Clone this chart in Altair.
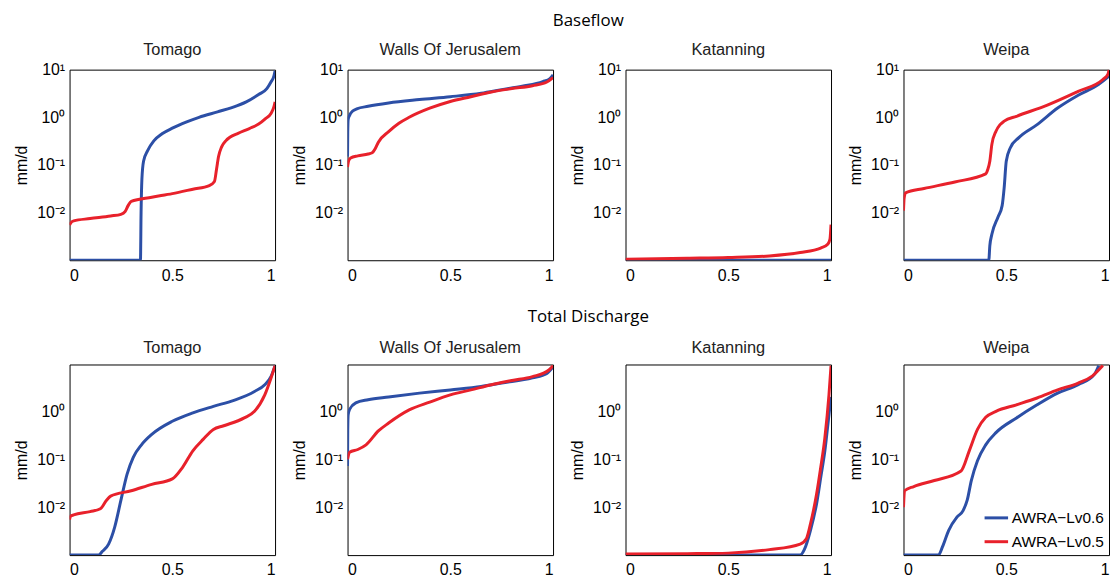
import altair as alt
import pandas as pd

S06 = "AWRA\u2212Lv0.6"
S05 = "AWRA\u2212Lv0.5"
BLUE = "#2c4fa6"
RED = "#e8212b"

ROW_TITLES = ["Baseflow", "Total Discharge"]
CATCHMENTS = ["Tomago", "Walls Of Jerusalem", "Katanning", "Weipa"]
X_TICKS = [0, 0.5, 1]
Y_TICKS_TOP = [0.01, 0.1, 1, 10]
Y_TICKS_BOTTOM = [0.01, 0.1, 1]
Y_DOMAIN_TOP = [0.001, 10]
Y_DOMAIN_BOTTOM = [0.001, 9.5]

# ---------------- Baseflow ----------------
TOM_BF_X_06 = [0, 0.345, 0.348, 0.352, 0.36, 0.38, 0.41, 0.45, 0.5, 0.57, 0.63, 0.72, 0.79, 0.86, 0.92, 0.96, 0.98, 0.995, 1.0]
TOM_BF_Y_06 = [0.001, 0.001, 0.01, 0.05, 0.12, 0.2, 0.32, 0.45, 0.59, 0.8, 1.0, 1.3, 1.6, 2.1, 3.0, 4.0, 5.5, 7.5, 9.5]
TOM_BF_X_05 = [0, 0.005, 0.02, 0.1, 0.2, 0.25, 0.27, 0.285, 0.3, 0.4, 0.5, 0.6, 0.68, 0.705, 0.715, 0.725, 0.74, 0.76, 0.78, 0.82, 0.875, 0.92, 0.955, 0.98, 0.995, 1.0]
TOM_BF_Y_05 = [0.0055, 0.006, 0.0067, 0.0075, 0.0085, 0.0092, 0.0105, 0.014, 0.0172, 0.021, 0.025, 0.031, 0.037, 0.045, 0.08, 0.15, 0.24, 0.32, 0.38, 0.46, 0.58, 0.72, 0.95, 1.2, 1.7, 2.1]

WOJ_BF_X_06 = [0, 0.001, 0.003, 0.01, 0.025, 0.045, 0.1, 0.2, 0.35, 0.5, 0.65, 0.75, 0.85, 0.95, 0.985, 1.0]
WOJ_BF_Y_06 = [0.15, 0.5, 0.9, 1.1, 1.35, 1.5, 1.7, 2.0, 2.35, 2.7, 3.2, 3.8, 4.5, 5.6, 6.5, 7.8]
WOJ_BF_X_05 = [0, 0.005, 0.015, 0.05, 0.1, 0.12, 0.135, 0.15, 0.2, 0.25, 0.3, 0.4, 0.5, 0.6, 0.7, 0.8, 0.9, 0.97, 1.0]
WOJ_BF_Y_05 = [0.09, 0.12, 0.14, 0.155, 0.17, 0.18, 0.22, 0.3, 0.5, 0.75, 1.0, 1.55, 2.15, 2.7, 3.4, 4.0, 4.6, 5.5, 6.8]

KAT_BF_X_06 = [0, 1.0]
KAT_BF_Y_06 = [0.001, 0.001]
KAT_BF_X_05 = [0, 0.3, 0.5, 0.7, 0.85, 0.95, 0.985, 0.995, 1.0]
KAT_BF_Y_05 = [0.00105, 0.0011, 0.00114, 0.00123, 0.00145, 0.0018, 0.0022, 0.0028, 0.0056]

WEI_BF_X_06 = [0, 0.415, 0.42, 0.43, 0.46, 0.48, 0.49, 0.5, 0.52, 0.56, 0.65, 0.75, 0.85, 0.95, 1.0]
WEI_BF_Y_06 = [0.001, 0.001, 0.002, 0.0035, 0.0081, 0.014, 0.034, 0.12, 0.23, 0.37, 0.7, 1.56, 2.9, 4.9, 7.3]
WEI_BF_X_05 = [0, 0.003, 0.01, 0.1, 0.25, 0.4, 0.41, 0.42, 0.43, 0.45, 0.47, 0.49, 0.55, 0.7, 0.85, 0.97, 0.995, 1.0]
WEI_BF_Y_05 = [0.011, 0.02, 0.026, 0.032, 0.044, 0.065, 0.08, 0.12, 0.27, 0.51, 0.7, 0.83, 1.05, 1.8, 3.5, 6.2, 8.0, 10.0]

# ---------------- Total Discharge ----------------
TOM_TD_X_06 = [0, 0.14, 0.16, 0.19, 0.22, 0.25, 0.28, 0.31, 0.35, 0.4, 0.5, 0.6, 0.7, 0.8, 0.9, 0.95, 0.98, 1.0]
TOM_TD_Y_06 = [0.001, 0.001, 0.0012, 0.0017, 0.0039, 0.014, 0.049, 0.11, 0.2, 0.33, 0.62, 0.93, 1.27, 1.7, 2.6, 3.6, 5.3, 9.0]
TOM_TD_X_05 = [0, 0.005, 0.02, 0.1, 0.15, 0.18, 0.2, 0.3, 0.4, 0.5, 0.55, 0.6, 0.65, 0.7, 0.75, 0.85, 0.9, 0.95, 0.98, 1.0]
TOM_TD_Y_05 = [0.0055, 0.0065, 0.0069, 0.0081, 0.0093, 0.014, 0.017, 0.022, 0.03, 0.039, 0.068, 0.15, 0.26, 0.42, 0.5, 0.73, 1.0, 2.2, 4.9, 9.0]

WOJ_TD_X_06 = [0, 0.001, 0.003, 0.01, 0.04, 0.1, 0.2, 0.35, 0.5, 0.65, 0.75, 0.9, 0.97, 1.0]
WOJ_TD_Y_06 = [0.072, 0.4, 0.85, 1.1, 1.5, 1.75, 2.0, 2.4, 2.8, 3.3, 3.9, 5.0, 6.2, 8.5]
WOJ_TD_X_05 = [0, 0.01, 0.05, 0.09, 0.15, 0.2, 0.3, 0.4, 0.5, 0.6, 0.7, 0.8, 0.9, 0.98, 1.0]
WOJ_TD_Y_05 = [0.1, 0.14, 0.16, 0.2, 0.39, 0.57, 1.07, 1.56, 2.2, 2.8, 3.6, 4.4, 5.3, 7.3, 9.0]

KAT_TD_X_06 = [0, 0.85, 0.87, 0.9, 0.93, 0.95, 0.97, 0.99, 1.0]
KAT_TD_Y_06 = [0.001, 0.001, 0.0013, 0.0033, 0.012, 0.042, 0.15, 0.85, 2.0]
KAT_TD_X_05 = [0, 0.3, 0.5, 0.7, 0.85, 0.88, 0.9, 0.93, 0.95, 0.97, 0.99, 1.0]
KAT_TD_Y_05 = [0.00105, 0.00107, 0.0011, 0.0013, 0.0017, 0.0022, 0.0045, 0.019, 0.068, 0.28, 2.2, 9.0]

WEI_TD_X_06 = [0, 0.17, 0.19, 0.22, 0.26, 0.29, 0.31, 0.33, 0.36, 0.4, 0.45, 0.55, 0.65, 0.75, 0.85, 0.93, 0.95]
WEI_TD_Y_06 = [0.001, 0.001, 0.0015, 0.0033, 0.0062, 0.0085, 0.014, 0.036, 0.093, 0.2, 0.36, 0.73, 1.37, 2.4, 3.6, 6.0, 9.0]
WEI_TD_X_05 = [0, 0.005, 0.05, 0.15, 0.28, 0.32, 0.36, 0.4, 0.45, 0.55, 0.65, 0.75, 0.85, 0.92, 0.97]
WEI_TD_Y_05 = [0.01, 0.022, 0.027, 0.036, 0.057, 0.15, 0.42, 0.75, 1.0, 1.37, 1.9, 2.8, 3.9, 5.5, 9.0]

BASEFLOW = [
    (TOM_BF_X_06, TOM_BF_Y_06, TOM_BF_X_05, TOM_BF_Y_05),
    (WOJ_BF_X_06, WOJ_BF_Y_06, WOJ_BF_X_05, WOJ_BF_Y_05),
    (KAT_BF_X_06, KAT_BF_Y_06, KAT_BF_X_05, KAT_BF_Y_05),
    (WEI_BF_X_06, WEI_BF_Y_06, WEI_BF_X_05, WEI_BF_Y_05),
]
DISCHARGE = [
    (TOM_TD_X_06, TOM_TD_Y_06, TOM_TD_X_05, TOM_TD_Y_05),
    (WOJ_TD_X_06, WOJ_TD_Y_06, WOJ_TD_X_05, WOJ_TD_Y_05),
    (KAT_TD_X_06, KAT_TD_Y_06, KAT_TD_X_05, KAT_TD_Y_05),
    (WEI_TD_X_06, WEI_TD_Y_06, WEI_TD_X_05, WEI_TD_Y_05),
]

PW, PH = 207, 192
FONT = "Liberation Sans"

Y_LABEL_EXPR = ("datum.value >= 5 ? '10\u00b9' : datum.value >= 0.5 ? '10\u2070' : "
                "datum.value >= 0.05 ? '10\u207b\u00b9' : '10\u207b\u00b2'")
X_LABEL_EXPR = "datum.value == 0 ? '0' : datum.value == 1 ? '1' : '0.5'"


def panel(name, series, ydom, yticks, title_offset, show_legend=False):
    bx, by, rx, ry = series
    blue_df = pd.DataFrame({"x": bx, "y": by, "series": S06})
    red_df = pd.DataFrame({"x": rx, "y": ry, "series": S05})
    if show_legend:
        leg = alt.Legend(
            title=None, orient="bottom-right", offset=5, symbolType="stroke",
            symbolStrokeWidth=3, symbolSize=560, labelFont=FONT, labelFontSize=15.5,
            labelColor="black", rowPadding=2, padding=0, labelOffset=2,
        )
    else:
        leg = None
    color = alt.Color("series:N", scale=alt.Scale(domain=[S06, S05], range=[BLUE, RED]), legend=leg)
    xenc = alt.X("x:Q", scale=alt.Scale(domain=[0, 1], nice=False, zero=False),
                 axis=alt.Axis(values=X_TICKS, title=None, labelExpr=X_LABEL_EXPR,
                               labelPadding=7, ticks=False, domain=False, grid=False))
    yenc = alt.Y("y:Q", scale=alt.Scale(type="log", domain=ydom, nice=False),
                 axis=alt.Axis(values=yticks, title="mm/d", labelExpr=Y_LABEL_EXPR,
                               labelPadding=5, ticks=False, domain=False, grid=False,
                               minExtent=38, maxExtent=38, titlePadding=2))

    def line(df):
        return alt.Chart(df).mark_line(strokeWidth=3, clip=True, interpolate="monotone").encode(
            x=xenc, y=yenc, color=color)

    return alt.layer(line(blue_df), line(red_df)).properties(
        width=PW, height=PH,
        title=alt.TitleParams(name, font=FONT, fontSize=16.5, fontWeight="normal",
                              color="#222222", offset=title_offset),
    )


def row(title, data, ydom, yticks, row_offset, panel_offset, legend_last=False):
    panels = [panel(n, s, ydom, yticks, panel_offset, show_legend=(legend_last and i == 3))
              for i, (n, s) in enumerate(zip(CATCHMENTS, data))]
    return alt.hconcat(*panels, spacing=15).properties(
        title=alt.TitleParams(title, font="Open Sans", fontSize=17, fontWeight="normal",
                              color="black", anchor="middle", offset=row_offset, dx=27)
    ).resolve_legend(color="independent").resolve_scale(color="independent")


chart = alt.vconcat(
    row(ROW_TITLES[0], BASEFLOW, Y_DOMAIN_TOP, Y_TICKS_TOP, 12, 3),
    row(ROW_TITLES[1], DISCHARGE, Y_DOMAIN_BOTTOM, Y_TICKS_BOTTOM, 14, 8, legend_last=True),
    spacing=24,
).resolve_legend(color="independent").resolve_scale(color="independent").properties(
    padding={"left": 5, "top": 2, "right": 0, "bottom": 0}
).configure_view(
    stroke="black", strokeWidth=1
).configure_axis(
    labelFont=FONT, labelFontSize=16, labelColor="black",
    titleFont=FONT, titleFontSize=16, titleFontWeight="normal", titleColor="black",
)

chart.save("out.html", embed_options={"renderer": "svg", "actions": False})
